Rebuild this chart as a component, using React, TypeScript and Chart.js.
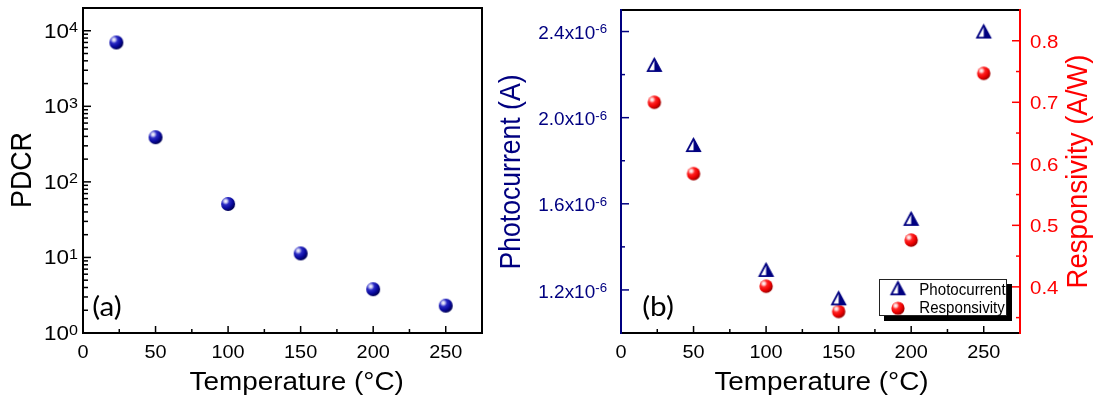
import React, { useEffect, useRef } from "react";
import { Chart, registerables } from "chart.js";

Chart.register(...registerables);

// ---------------- data ----------------
const temperatureC = [23, 50, 100, 150, 200, 250];
const pdcrValues = [7000, 390, 51, 11.3, 3.8, 2.3];
const photocurrentA = [2.245e-6, 1.873e-6, 1.293e-6, 1.161e-6, 1.53e-6, 2.4e-6];
const responsivityAW = [0.7, 0.584, 0.401, 0.36, 0.476, 0.747];

const xTickValues = [0, 50, 100, 150, 200, 250];
const xTickLabels = ["0", "50", "100", "150", "200", "250"];
const xMinorTickValues = [25, 75, 125, 175, 225];
const pdcrTickExponents = [0, 1, 2, 3, 4];
const pdcrTickExponentLabels = ["0", "1", "2", "3", "4"];
const logMinorMultipliers = [2, 3, 4, 5, 6, 7, 8, 9];
const photoTickValues = [1.2e-6, 1.6e-6, 2.0e-6, 2.4e-6];
const photoTickMantissas = ["1.2", "1.6", "2.0", "2.4"];
const photoMinorTickValues = [1.4e-6, 1.8e-6, 2.2e-6];
const respTickValues = [0.4, 0.5, 0.6, 0.7, 0.8];
const respTickLabels = ["0.4", "0.5", "0.6", "0.7", "0.8"];
const respMinorTickValues = [0.35, 0.45, 0.55, 0.65, 0.75];

// ---------------- style ----------------
const FONT = '"Liberation Sans", Arial, Helvetica, sans-serif';
const NAVY = "#000080";
const RED = "#ff0000";

type TO = {
  size: number;
  color?: string;
  align?: CanvasTextAlign;
  baseline?: CanvasTextBaseline;
  sx?: number;
  rotate?: number;
  family?: string;
};

function drawText(ctx: CanvasRenderingContext2D, s: string, x: number, y: number, o: TO) {
  ctx.save();
  ctx.translate(x, y);
  ctx.scale(o.sx ?? 1, 1);
  if (o.rotate) ctx.rotate(o.rotate);
  ctx.font = `${o.size}px ${o.family ?? FONT}`;
  ctx.fillStyle = o.color ?? "#000";
  ctx.textAlign = o.align ?? "center";
  ctx.textBaseline = o.baseline ?? "alphabetic";
  ctx.fillText(s, 0, 0);
  ctx.restore();
}

function measure(ctx: CanvasRenderingContext2D, s: string, size: number) {
  ctx.save();
  ctx.font = `${size}px ${FONT}`;
  const w = ctx.measureText(s).width;
  ctx.restore();
  return w;
}

function drawSupLabel(
  ctx: CanvasRenderingContext2D,
  base: string,
  sup: string,
  rightX: number,
  baseline: number,
  size: number,
  supSize: number,
  raise: number,
  sx: number,
  color: string
) {
  const ws = measure(ctx, sup, supSize) * sx;
  drawText(ctx, sup, rightX - ws, baseline - raise, { size: supSize, color, align: "left", sx });
  drawText(ctx, base, rightX - ws, baseline, { size, color, align: "right", sx });
}

function line(ctx: CanvasRenderingContext2D, x1: number, y1: number, x2: number, y2: number) {
  ctx.beginPath();
  ctx.moveTo(x1, y1);
  ctx.lineTo(x2, y2);
  ctx.stroke();
}

function makeSphere(r: number, stops: [number, string][]) {
  const s = Math.ceil(r * 2 + 2);
  const c = document.createElement("canvas");
  c.width = s;
  c.height = s;
  const g = c.getContext("2d")!;
  const cx = s / 2;
  const cy = s / 2;
  const hx = cx - r * 0.35;
  const hy = cy - r * 0.4;
  const grad = g.createRadialGradient(hx, hy, 0, hx, hy, r * 1.4);
  stops.forEach(([o, col]) => grad.addColorStop(o, col));
  g.fillStyle = grad;
  g.beginPath();
  g.arc(cx, cy, r, 0, Math.PI * 2);
  g.fill();
  return c;
}

function makeHalfTriangle(w: number, h: number, color: string) {
  const pad = 2;
  const c = document.createElement("canvas");
  c.width = Math.ceil(w + pad * 2);
  c.height = Math.ceil(h + pad * 2);
  const g = c.getContext("2d")!;
  const cx = c.width / 2;
  const top = pad;
  const bottom = pad + h;
  const left = cx - w / 2;
  const right = cx + w / 2;
  g.beginPath();
  g.moveTo(cx, top);
  g.lineTo(left, bottom);
  g.lineTo(right, bottom);
  g.closePath();
  g.fillStyle = "#fff";
  g.fill();
  g.beginPath();
  g.moveTo(cx, top);
  g.lineTo(cx, bottom);
  g.lineTo(right, bottom);
  g.closePath();
  g.fillStyle = color;
  g.fill();
  g.beginPath();
  g.moveTo(cx, top + 0.8);
  g.lineTo(left + 0.9, bottom - 0.9);
  g.lineTo(right - 0.9, bottom - 0.9);
  g.closePath();
  g.lineWidth = 1.8;
  g.strokeStyle = color;
  g.lineJoin = "miter";
  g.stroke();
  return c;
}

const NAVY_STOPS: [number, string][] = [
  [0, "#ffffff"],
  [0.16, "#c8c8f2"],
  [0.38, "#2a2ac4"],
  [0.72, "#08089c"],
  [1, "#000058"],
];
const RED_STOPS: [number, string][] = [
  [0, "#ffffff"],
  [0.16, "#ffcccc"],
  [0.38, "#ff2424"],
  [0.72, "#ee0000"],
  [1, "#a00000"],
];

// ---------------- panel plugins ----------------
const TICK_SIZE = 18.6;

const panelAPlugin = {
  id: "panelA",
  afterDraw(chart: any) {
    const ctx: CanvasRenderingContext2D = chart.ctx;
    const { left, right, top, bottom } = chart.chartArea;
    const x = chart.scales.x;
    const y = chart.scales.y;
    ctx.save();
    ctx.strokeStyle = "#000";
    ctx.lineWidth = 1.5;
    xTickValues.forEach((v) => {
      const px = x.getPixelForValue(v);
      line(ctx, px, bottom, px, bottom - 7);
    });
    xMinorTickValues.forEach((v) => {
      const px = x.getPixelForValue(v);
      line(ctx, px, bottom, px, bottom - 4);
    });
    pdcrTickExponents.forEach((e) => {
      const py = y.getPixelForValue(Math.pow(10, e));
      line(ctx, left, py, left + 8, py);
    });
    pdcrTickExponents.slice(0, -1).forEach((e) => {
      logMinorMultipliers.forEach((m) => {
        const py = y.getPixelForValue(m * Math.pow(10, e));
        line(ctx, left, py, left + 5, py);
      });
    });
    ctx.lineWidth = 2;
    ctx.strokeRect(left, top, right - left, bottom - top);
    ctx.restore();

    xTickValues.forEach((v, i) => {
      drawText(ctx, xTickLabels[i], x.getPixelForValue(v), 358, { size: TICK_SIZE, sx: 1.07 });
    });
    pdcrTickExponents.forEach((e, i) => {
      const py = y.getPixelForValue(Math.pow(10, e));
      drawSupLabel(ctx, "10", pdcrTickExponentLabels[i], 78, py + 7, 19.5, 14, 5.5, 1.15, "#000");
    });
    drawText(ctx, "PDCR", 22.5, 170, { size: 26.8, sx: 1.12, rotate: -Math.PI / 2, baseline: "middle" });
    drawText(ctx, "Temperature (\u00B0C)", 296.7, 390, { size: 25.6, sx: 1.09 });
    drawText(ctx, "(a)", 107, 315.5, { size: 27, sx: 1.1, family: "Lato, 'Open Sans', sans-serif" });
  },
};

function makePanelBPlugin(tri: HTMLCanvasElement, ball: HTMLCanvasElement) {
  return {
    id: "panelB",
    afterDraw(chart: any) {
      const ctx: CanvasRenderingContext2D = chart.ctx;
      const { left, right, top, bottom } = chart.chartArea;
      const x = chart.scales.x;
      const yL = chart.scales.yPhoto;
      const yR = chart.scales.yResp;
      const ox = 490; // canvas offset in the page
      ctx.save();
      ctx.lineWidth = 1.5;
      ctx.strokeStyle = "#000";
      xTickValues.forEach((v) => {
        const px = x.getPixelForValue(v);
        line(ctx, px, bottom, px, bottom - 7);
      });
      xMinorTickValues.forEach((v) => {
        const px = x.getPixelForValue(v);
        line(ctx, px, bottom, px, bottom - 4);
      });
      ctx.strokeStyle = NAVY;
      photoTickValues.forEach((v) => {
        const py = yL.getPixelForValue(v);
        line(ctx, left, py, left + 8, py);
      });
      photoMinorTickValues.forEach((v) => {
        const py = yL.getPixelForValue(v);
        line(ctx, left, py, left + 4, py);
      });
      ctx.strokeStyle = RED;
      respTickValues.forEach((v) => {
        const py = yR.getPixelForValue(v);
        line(ctx, right, py, right - 8, py);
      });
      respMinorTickValues.forEach((v) => {
        const py = yR.getPixelForValue(v);
        line(ctx, right, py, right - 4, py);
      });
      ctx.lineWidth = 2;
      ctx.strokeStyle = "#000";
      line(ctx, left - 1, top, right + 1, top);
      line(ctx, left - 1, bottom, right + 1, bottom);
      ctx.strokeStyle = NAVY;
      line(ctx, left, top - 1, left, bottom + 1);
      ctx.strokeStyle = RED;
      line(ctx, right, top - 1, right, bottom + 1);

      // legend
      const lx = 879 - ox;
      const ly = 279;
      const lw = 128;
      const lh = 37;
      ctx.fillStyle = "#000";
      ctx.fillRect(lx + 5, ly + 5, lw, lh);
      ctx.fillStyle = "#fff";
      ctx.fillRect(lx, ly, lw, lh);
      ctx.lineWidth = 1;
      ctx.strokeStyle = "#222";
      ctx.strokeRect(lx + 0.5, ly + 0.5, lw - 1, lh - 1);
      ctx.drawImage(tri, 898 - ox - tri.width / 2, 288.3 - tri.height / 2);
      ctx.drawImage(ball, 898 - ox - ball.width / 2, 308.3 - ball.height / 2);
      ctx.restore();

      drawText(ctx, "Photocurrent", 919.3 - ox, 295, { size: 16.5, sx: 0.914, align: "left" });
      drawText(ctx, "Responsivity", 919.3 - ox, 312.7, { size: 16.5, sx: 0.914, align: "left" });

      xTickValues.forEach((v, i) => {
        drawText(ctx, xTickLabels[i], x.getPixelForValue(v), 358, { size: TICK_SIZE, sx: 1.07 });
      });
      photoTickValues.forEach((v, i) => {
        const py = yL.getPixelForValue(v);
        drawSupLabel(ctx, photoTickMantissas[i] + "x10", "-6", 607 - ox, py + 7.6, TICK_SIZE, 13, 5.7, 1.02, NAVY);
      });
      respTickValues.forEach((v, i) => {
        const py = yR.getPixelForValue(v);
        drawText(ctx, respTickLabels[i], 1030 - ox, py + 7, { size: TICK_SIZE, sx: 1.1, align: "left", color: RED });
      });
      drawText(ctx, "Photocurrent (A)", 511.6 - ox, 172, {
        size: 26.6,
        sx: 1.1,
        rotate: -Math.PI / 2,
        baseline: "middle",
        color: NAVY,
      });
      drawText(ctx, "Responsivity (A/W)", 1079 - ox, 171.5, {
        size: 27.5,
        sx: 1.1,
        rotate: -Math.PI / 2,
        baseline: "middle",
        color: RED,
      });
      drawText(ctx, "Temperature (\u00B0C)", 821.5 - ox, 389.5, { size: 25.6, sx: 1.09 });
      drawText(ctx, "(b)", 658 - ox, 316, { size: 27, sx: 1.1, family: "Lato, 'Open Sans', sans-serif" });
    },
  };
}

export default function App() {
  const refA = useRef<HTMLCanvasElement | null>(null);
  const refB = useRef<HTMLCanvasElement | null>(null);

  useEffect(() => {
    const navyBall = makeSphere(7, NAVY_STOPS);
    const redBall = makeSphere(6.7, RED_STOPS);
    const legendBall = makeSphere(6.6, RED_STOPS);
    const tri = makeHalfTriangle(15, 14, NAVY);

    const chartA = new Chart(refA.current!, {
      type: "scatter",
      data: {
        datasets: [
          {
            label: "PDCR",
            data: temperatureC.map((t, i) => ({ x: t, y: pdcrValues[i] })),
            pointStyle: navyBall as any,
            pointRadius: 7,
          },
        ],
      },
      options: {
        responsive: false,
        animation: false,
        devicePixelRatio: 1,
        layout: { padding: { left: 83, right: 5, top: 7.8, bottom: 70 } },
        plugins: { legend: { display: false }, tooltip: { enabled: false } },
        scales: {
          x: { type: "linear", min: 0, max: 275, display: false },
          y: { type: "logarithmic", min: 1, max: 2e4, display: false },
        },
      },
      plugins: [panelAPlugin],
    } as any);

    const chartB = new Chart(refB.current!, {
      type: "scatter",
      data: {
        datasets: [
          {
            label: "Photocurrent",
            data: temperatureC.map((t, i) => ({ x: t, y: photocurrentA[i] })),
            yAxisID: "yPhoto",
            pointStyle: tri as any,
            pointRadius: 7,
          },
          {
            label: "Responsivity",
            data: temperatureC.map((t, i) => ({ x: t, y: responsivityAW[i] })),
            yAxisID: "yResp",
            pointStyle: redBall as any,
            pointRadius: 7,
          },
        ],
      },
      options: {
        responsive: false,
        animation: false,
        devicePixelRatio: 1,
        layout: { padding: { left: 131, right: 80, top: 10, bottom: 70 } },
        plugins: { legend: { display: false }, tooltip: { enabled: false } },
        scales: {
          x: { type: "linear", min: 0, max: 275, display: false },
          yPhoto: { type: "linear", position: "left", min: 1.0e-6, max: 2.5e-6, display: false },
          yResp: { type: "linear", position: "right", min: 0.325, max: 0.85, display: false },
        },
      },
      plugins: [makePanelBPlugin(tri, legendBall)],
    } as any);

    return () => {
      chartA.destroy();
      chartB.destroy();
    };
  }, []);

  return (
    <div style={{ position: "absolute", left: 0, top: 0, width: 1100, height: 403, background: "#fff" }}>
      <canvas ref={refA} width={490} height={403} style={{ position: "absolute", left: 0, top: 0 }} />
      <canvas ref={refB} width={610} height={403} style={{ position: "absolute", left: 490, top: 0 }} />
    </div>
  );
}
